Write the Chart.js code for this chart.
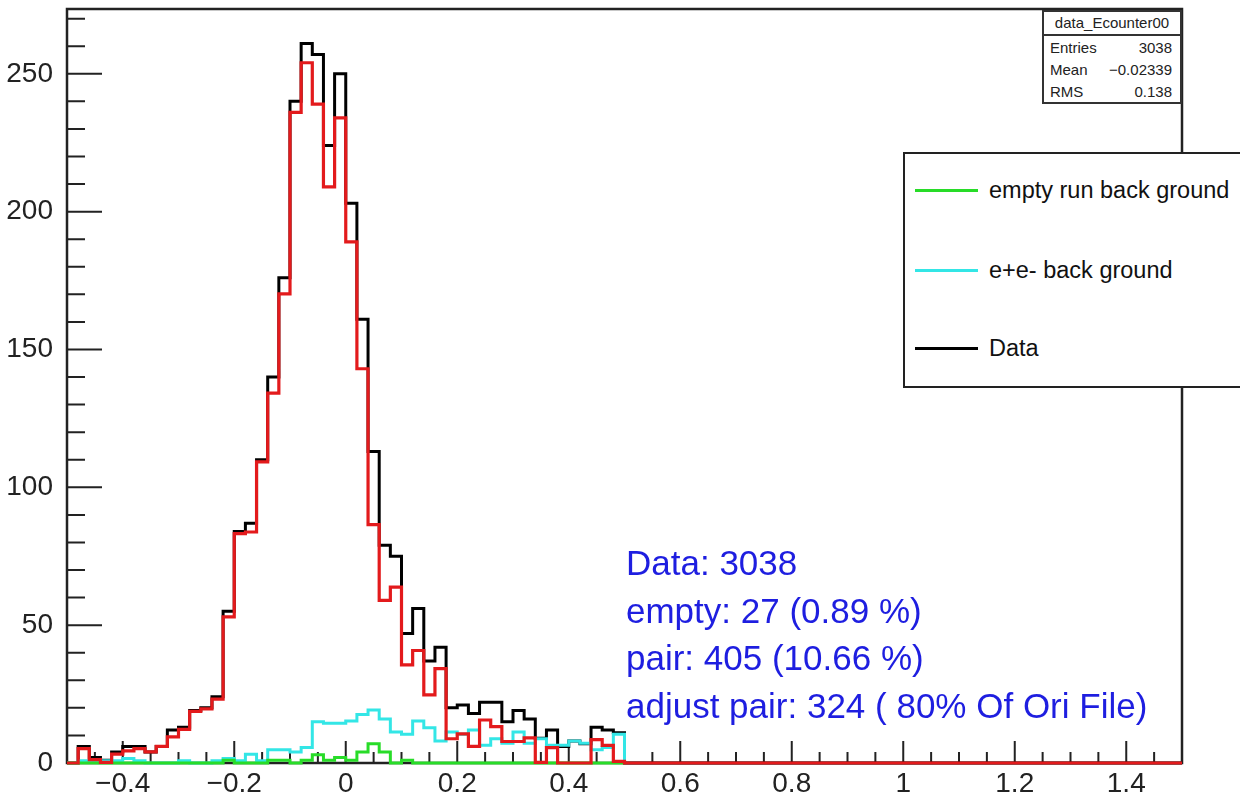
<!DOCTYPE html>
<html>
<head>
<meta charset="utf-8">
<script src="https://cdn.jsdelivr.net/npm/chart.js@4.4.1/dist/chart.umd.min.js"></script>
<style>
body { margin: 0; background: #fff; font-family: "Liberation Sans", Arial, sans-serif; }
#wrap { position: relative; width: 1240px; height: 800px; overflow: hidden; }
#c { position: absolute; left: 0; top: 0; }
.stats { position: absolute; left: 1042px; top: 10px; width: 136px; height: 90px; border: 2px solid #333; background: #fff; font-size: 15px; color: #222; }
.stats .ttl { height: 22px; line-height: 22px; text-align: center; border-bottom: 2px solid #333; }
.stats .row { display: flex; justify-content: space-between; padding: 0 8px 0 6px; height: 22px; line-height: 23px; }
.legend { position: absolute; left: 903px; top: 152px; width: 360px; height: 232px; border: 2px solid #222; background: #fff; }
.legend .ent { position: absolute; left: 0; height: 30px; font-size: 23.5px; color: #111; }
.legend .ent span { position: absolute; left: 10px; top: 14px; width: 63px; height: 3px; }
.legend .ent b { position: absolute; left: 84px; top: 0; font-weight: normal; white-space: nowrap; line-height: 30px; }
.note { position: absolute; left: 626px; top: 539px; font-size: 35px; line-height: 47.7px; color: #1e1ee0; white-space: nowrap; }
</style>
</head>
<body>
<div id="wrap">
  <canvas id="c" width="1240" height="800"></canvas>

  <div class="stats">
    <div class="ttl">data_Ecounter00</div>
    <div class="row"><span>Entries</span><span>3038</span></div>
    <div class="row"><span>Mean</span><span>&minus;0.02339</span></div>
    <div class="row"><span>RMS</span><span>0.138</span></div>
  </div>

  <div class="legend">
    <div class="ent" style="top:21px"><span style="background:#28dc28"></span><b>empty run back ground</b></div>
    <div class="ent" style="top:101px"><span style="background:#33e6e6"></span><b>e+e- back ground</b></div>
    <div class="ent" style="top:179px"><span style="background:#000"></span><b>Data</b></div>
  </div>

  <div class="note">
    Data: 3038<br>
    empty: 27 (0.89 %)<br>
    pair: 405 (10.66 %)<br>
    adjust pair: 324 ( 80% Of Ori File)
  </div>
</div>

<script>
// histogram binning (bins of 0.02 starting at -0.5)
const binLow = -0.5;
const binWidth = 0.02;
const rangeHigh = 1.5;

// bin contents from -0.5 to 0.5, empty above
const dataCounts = [0, 6, 2, 1, 4, 6, 6, 4, 6, 12, 13, 19, 20, 24, 55, 84, 87, 110, 140, 176,
  240, 261, 257, 224, 250, 203, 161, 113, 79, 75, 47, 56, 37, 42, 20, 21, 18, 22, 22, 15,
  19, 16, 9, 12, 6, 8, 7, 13, 12, 11];

const signalCounts = [0, 5.2, 1.2, 0.2, 3.2, 4.4, 5.2, 4, 6, 9.5, 12.2, 18.7, 19.6, 23.2, 53, 83.2, 83.8, 109.2, 134.2, 170.2,
  236, 254, 239, 209, 234, 189, 143, 86.5, 59, 63.8, 35.6, 40.8, 24.7, 34.2, 8.8, 10.6, 6, 15.6, 13.2, 7.8,
  7.8, 9.1, 0.2, 5.6, 0, 0, 0, 8.5, 6.4, 0.6];

const pairCounts = [0, 0.8, 0.8, 0.8, 0.8, 1.6, 0.8, 0, 0, 0, 0.8, 0, 0, 0.8, 1.6, 0.8, 3.2, 0.8, 4.8, 4.8,
  4, 5.6, 15, 14.4, 14.4, 15.2, 17.6, 19.2, 16, 11.2, 10.4, 15.2, 12.8, 8, 11.2, 10.4, 12, 6.4, 8.8, 7.2,
  11.2, 7.2, 8.8, 6.4, 6.4, 8, 7.2, 4.8, 5.6, 10.4];

const emptyCounts = [0, 0, 0, 0, 0, 0, 0, 0, 0, 0, 0, 0, 0, 0, 1, 0, 0, 0, 1, 1,
  0, 1, 3, 1, 2, 1, 4, 7, 4, 0, 1, 0, 0, 0, 0, 0, 0, 0, 0, 0,
  0, 0, 0, 0, 0, 0, 0, 0, 0, 0];

const xTickValues = [-0.4, -0.2, 0, 0.2, 0.4, 0.6, 0.8, 1, 1.2, 1.4];
const yTickValues = [0, 50, 100, 150, 200, 250];

const FONT = '"Liberation Sans", Arial, sans-serif';

// outline points of a histogram, stepped line
function histPoints(counts, hi) {
  let pts = [{x: binLow, y: 0}];
  for (let i = 0; i < counts.length; i++) {
    pts.push({x: binLow + i * binWidth, y: counts[i]});
  }
  let end = binLow + counts.length * binWidth;
  pts.push({x: end, y: 0});
  if (hi > end + 1e-9) pts.push({x: hi, y: 0});
  return pts;
}

function histSet(label, counts, color, hi, width) {
  return {
    label: label,
    data: histPoints(counts, hi),
    borderColor: color,
    backgroundColor: color,
    borderWidth: width,
    stepped: 'before',
    fill: false,
    pointRadius: 0,
    borderJoinStyle: 'miter',
    borderCapStyle: 'butt',
    clip: false
  };
}

// frame and inner ticks like ROOT
const framePlugin = {
  id: 'frame',
  beforeDatasetsDraw(chart) {
    const ctx = chart.ctx;
    const a = chart.chartArea;
    const xs = chart.scales.x;
    const ys = chart.scales.y;
    ctx.save();
    ctx.strokeStyle = '#222';
    ctx.lineWidth = 2;
    ctx.beginPath();
    for (let i = 0; i <= 40; i++) {
      let v = -0.5 + i * 0.05;
      let major = (i % 4) === 2;
      let px = xs.getPixelForValue(v);
      ctx.moveTo(px, a.bottom);
      ctx.lineTo(px, a.bottom - (major ? 22 : 11));
    }
    for (let i = 0; i <= 27; i++) {
      let py = ys.getPixelForValue(i * 10);
      ctx.moveTo(a.left, py);
      ctx.lineTo(a.left + (i % 5 === 0 ? 35 : 18), py);
    }
    ctx.stroke();
    ctx.lineWidth = 2.5;
    ctx.strokeStyle = '#222';
    ctx.strokeRect(a.left, a.top, a.right - a.left, a.bottom - a.top);
    ctx.restore();
  }
};

function fmtTick(v) {
  let s = String(Math.round(v * 10) / 10);
  return s.replace('-', '\u2212');
}

new Chart(document.getElementById('c').getContext('2d'), {
  type: 'line',
  data: {
    datasets: [
      histSet('signal', signalCounts, '#e31a1c', rangeHigh, 3.2),
      histSet('empty run back ground', emptyCounts, '#28dc28', binLow + emptyCounts.length * binWidth, 3),
      histSet('e+e- back ground', pairCounts, '#33e6e6', binLow + pairCounts.length * binWidth, 3),
      histSet('Data', dataCounts, '#000000', rangeHigh, 3)
    ]
  },
  options: {
    responsive: false,
    animation: false,
    events: [],
    layout: {padding: {top: 9, right: 58, left: 0, bottom: 0}},
    plugins: {legend: {display: false}, tooltip: {enabled: false}},
    scales: {
      x: {
        type: 'linear',
        min: binLow,
        max: rangeHigh,
        grid: {display: false, drawTicks: false},
        border: {display: false},
        ticks: {
          padding: 4,
          color: '#222',
          maxRotation: 0,
          autoSkip: false,
          font: {family: FONT, size: 28},
          callback: fmtTick
        },
        afterBuildTicks: function(s) { s.ticks = xTickValues.map(v => ({value: v})); },
        afterFit: function(s) { s.height = 37; s.paddingLeft = 0; s.paddingRight = 0; }
      },
      y: {
        type: 'linear',
        min: 0,
        max: 273.5,
        grid: {display: false, drawTicks: false},
        border: {display: false},
        ticks: {
          padding: 14,
          color: '#222',
          font: {family: FONT, size: 28},
          callback: v => String(v)
        },
        afterBuildTicks: function(s) { s.ticks = yTickValues.map(v => ({value: v})); },
        afterFit: function(s) { s.width = 67; s.paddingTop = 0; s.paddingBottom = 0; }
      }
    }
  },
  plugins: [framePlugin]
});
</script>
</body>
</html>
